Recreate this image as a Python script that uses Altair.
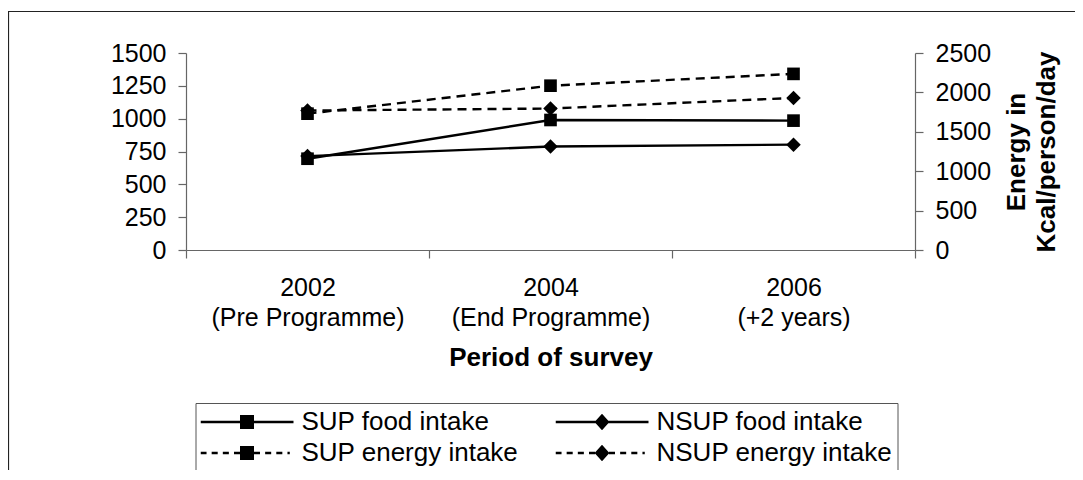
import altair as alt
import pandas as pd

periods = ["2002|(Pre Programme)", "2004|(End Programme)", "2006|(+2 years)"]
sup_food = [695, 990, 985]
nsup_food = [715, 788, 802]
sup_energy = [1730, 2085, 2235]
nsup_energy = [1770, 1795, 1930]
series_names = ["SUP food intake", "NSUP food intake", "SUP energy intake", "NSUP energy intake"]
left_ticks = [0, 250, 500, 750, 1000, 1250, 1500]
right_ticks = [0, 500, 1000, 1500, 2000, 2500]

FONT = "Liberation Sans"
AXIS_COL = "#666666"

food_df = pd.DataFrame({
    "period": periods * 2,
    "series": [series_names[0]] * 3 + [series_names[1]] * 3,
    "value": sup_food + nsup_food,
})
energy_df = pd.DataFrame({
    "period": periods * 2,
    "series": [series_names[2]] * 3 + [series_names[3]] * 3,
    "value": sup_energy + nsup_energy,
})
legend_df = pd.DataFrame({"series": series_names})
frame_df = pd.DataFrame({"a": [0]})

x_enc = alt.X(
    "period:N", sort=periods,
    scale=alt.Scale(paddingInner=0, paddingOuter=0),
    axis=alt.Axis(title="Period of survey",
                  labelExpr="isValid(datum.value) ? split(datum.value, '|') : ''",
                  labelAngle=0, tickBand="extent", labelPadding=17, labelLineHeight=30,
                  labelLimit=400, titlePadding=14, titleFontWeight="bold",
                  titleFontSize=26),
)

y_food = alt.Y("value:Q", scale=alt.Scale(domain=[0, 1500], nice=False),
               axis=alt.Axis(orient="left", values=left_ticks, format="d", title=None,
                             labelPadding=12))
y_energy = alt.Y("value:Q", scale=alt.Scale(domain=[0, 2500], nice=False),
                 axis=alt.Axis(orient="right", values=right_ticks, format="d",
                               title=["Energy in", "Kcal/person/day"], titleAngle=270,
                               titleFontWeight="bold", titlePadding=9, titleLineHeight=30,
                               titleFontSize=26, labelPadding=12))


def group(df, y_enc, dashed):
    base = alt.Chart(df)
    line_kw = dict(color="black", strokeWidth=2.4)
    if dashed:
        line_kw["strokeDash"] = [9, 6]
    line = base.mark_line(**line_kw).encode(x=x_enc, y=y_enc, detail="series:N")
    names = df["series"].unique().tolist()
    sq = base.transform_filter(alt.datum.series == names[0]).mark_square(
        size=160, color="black", opacity=1).encode(x=x_enc, y=y_enc)
    di = base.transform_filter(alt.datum.series == names[1]).mark_point(
        shape="diamond", filled=True, size=210, color="black", opacity=1).encode(x=x_enc, y=y_enc)
    return alt.layer(line, sq, di)


food_layer = group(food_df, y_food, False)
energy_layer = group(energy_df, y_energy, True)


# legend symbols: line (solid or dashed) drawn as thin filled bars + marker
def bar(a, b):
    return f"M{a},-0.025H{b}V0.025H{a}Z"


SQUARE = "M-0.15,-0.15H0.15V0.15H-0.15Z"
DIAMOND = "M-0.16,0L0,-0.18L0.16,0L0,0.18Z"
SOLID = bar(-1, 1)
DASHED = "".join(bar(a, b) for a, b in [(-1, -0.87), (-0.76, -0.63), (-0.52, -0.39),
                                         (-0.28, -0.15), (0.15, 0.28), (0.39, 0.52),
                                         (0.63, 0.76), (0.87, 0.92)])
paths = [SOLID + SQUARE, SOLID + DIAMOND, DASHED + SQUARE, DASHED + DIAMOND]

# legend fills column-major: order so that rows read SUP | NSUP
legend_order = [series_names[0], series_names[2], series_names[1], series_names[3]]
legend_paths = [paths[0], paths[2], paths[1], paths[3]]

leg = alt.Legend(
    orient="none", legendX=9.5, legendY=350, columns=2, title=None,
    symbolSize=8649, symbolStrokeWidth=0, symbolFillColor="black",
    labelFontSize=26, labelFont=FONT, labelColor="black",
    labelOffset=8, labelLimit=400, columnPadding=37, rowPadding=3, padding=5,
    strokeColor="#555555", fillColor="white", clipHeight=28,
)
legend_layer = alt.Chart(legend_df).transform_filter("false").mark_point(
    filled=True, color="black", opacity=1, size=8649
).encode(
    shape=alt.Shape("series:N", scale=alt.Scale(domain=legend_order, range=legend_paths),
                    legend=leg),
)

frame = alt.Chart(frame_df).mark_rect(fillOpacity=0, stroke="#222222", strokeWidth=1.2).encode(
    x=alt.value(-177.5), x2=alt.value(2000), y=alt.value(-41.5), y2=alt.value(2000)
)

chart = alt.layer(frame, food_layer, energy_layer, legend_layer).resolve_scale(
    y="independent"
).properties(
    width=729, height=197,
    autosize=alt.AutoSizeParams(type="none"),
    padding={"left": 178, "top": 45, "right": 160, "bottom": 220},
).configure(font=FONT).configure_view(stroke=None).configure_axis(
    labelFont=FONT, titleFont=FONT, labelColor="black", titleColor="black",
    domainColor=AXIS_COL, tickColor=AXIS_COL, labelFontSize=25, titleFontSize=25,
    grid=False, tickSize=8, domainWidth=1.2, tickWidth=1.2,
)

chart.save("out.html", embed_options={"renderer": "svg", "actions": False})
